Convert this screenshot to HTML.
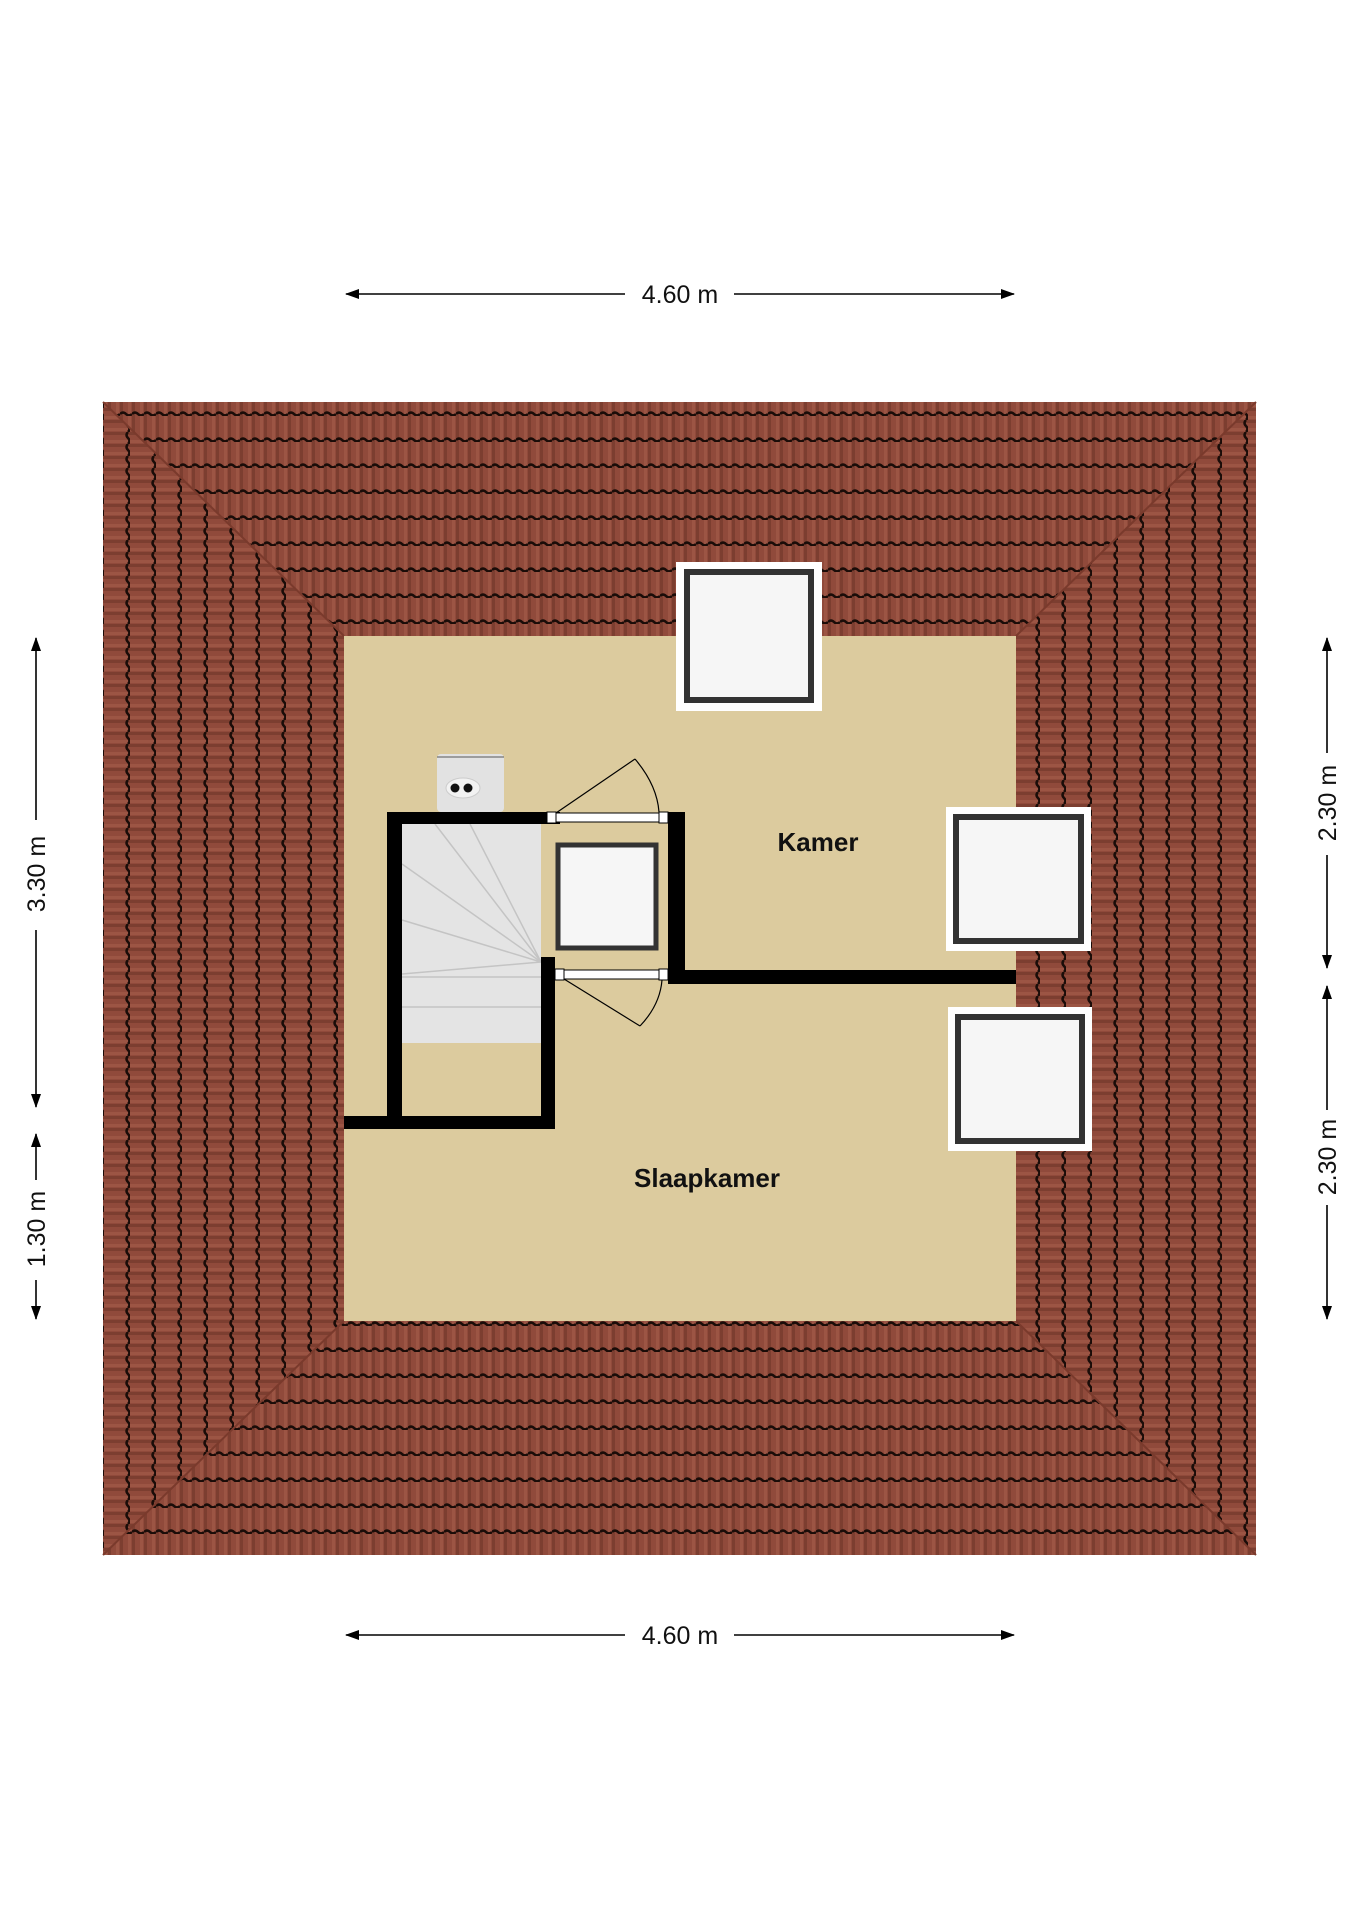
<!DOCTYPE html>
<html><head><meta charset="utf-8"><style>
html,body{margin:0;padding:0;background:#fff}
svg{display:block}
text{font-family:"Liberation Sans",sans-serif}
</style></head><body>
<svg width="1358" height="1920" viewBox="0 0 1358 1920" xmlns="http://www.w3.org/2000/svg">
<defs>
<pattern id="th" width="12" height="26" patternUnits="userSpaceOnUse">
<rect width="12" height="26" fill="#904a3b"/>
<rect x="0" y="0" width="3" height="26" fill="#7c3e30"/>
<rect x="8" y="0" width="3" height="26" fill="#9c5544"/>
<path d="M0 24 Q3 21 6 24 T12 24" stroke="#1a0c08" stroke-width="2.5" fill="none"/>
</pattern>
<pattern id="tv" width="26" height="12" patternUnits="userSpaceOnUse">
<rect width="26" height="12" fill="#904a3b"/>
<rect x="0" y="0" width="26" height="3" fill="#7c3e30"/>
<rect x="0" y="8" width="26" height="3" fill="#9c5544"/>
<path d="M24 0 Q21 3 24 6 T24 12" stroke="#1a0c08" stroke-width="2.5" fill="none"/>
</pattern>
<marker id="ah" markerWidth="14" markerHeight="12" refX="13" refY="6" orient="auto" markerUnits="userSpaceOnUse">
<path d="M0 1 L14 6 L0 11 z" fill="#000"/>
</marker>
</defs>

<!-- roof -->
<polygon points="103,402 1256,402 1016,636 344,636" fill="url(#th)"/>
<polygon points="103,1555 1256,1555 1016,1321 344,1321" fill="url(#th)"/>
<polygon points="103,402 344,636 344,1321 103,1555" fill="url(#tv)"/>
<polygon points="1256,402 1016,636 1016,1321 1256,1555" fill="url(#tv)"/>
<g stroke="#7a3a2c" stroke-width="2">
<line x1="103" y1="402" x2="344" y2="636"/><line x1="1256" y1="402" x2="1016" y2="636"/>
<line x1="103" y1="1555" x2="344" y2="1321"/><line x1="1256" y1="1555" x2="1016" y2="1321"/>
</g>

<!-- floor -->
<rect x="344" y="636" width="672" height="685" fill="#dccb9e"/>

<!-- stairs -->
<rect x="402" y="824" width="139" height="219" fill="#e4e4e4"/>
<g stroke="#c4c4c4" stroke-width="1.5" fill="none">
<line x1="541" y1="962" x2="435" y2="824"/><line x1="541" y1="962" x2="470" y2="824"/>
<line x1="541" y1="962" x2="402" y2="864"/><line x1="541" y1="962" x2="402" y2="920"/>
<line x1="541" y1="962" x2="402" y2="974"/>
<line x1="402" y1="977" x2="541" y2="977"/><line x1="402" y1="1007" x2="541" y2="1007"/>
</g>
<!-- boiler -->
<rect x="437" y="754" width="67" height="58" rx="4" fill="#e2e2e2"/>
<line x1="437" y1="757" x2="504" y2="757" stroke="#555" stroke-width="1"/>
<ellipse cx="463" cy="788" rx="17" ry="10" fill="#f2f2f2" stroke="#ccc"/>
<circle cx="455" cy="788" r="4.5" fill="#111"/><circle cx="468" cy="788" r="4.5" fill="#111"/>

<!-- walls -->
<g fill="#000">
<rect x="387" y="812" width="15" height="317"/>
<rect x="387" y="812" width="173" height="12"/>
<rect x="668" y="812" width="17" height="172"/>
<rect x="668" y="970" width="348" height="14"/>
<rect x="541" y="957" width="14" height="172"/>
<rect x="344" y="1116" width="211" height="13"/>
</g>
<!-- doors -->
<g stroke="#000" stroke-width="1" fill="#fff">
<rect x="547" y="812" width="9" height="11"/><rect x="659" y="812" width="9" height="11"/>
<rect x="556" y="813" width="103" height="9"/>
<rect x="555" y="969" width="9" height="11"/><rect x="659" y="969" width="9" height="11"/>
<rect x="564" y="970" width="95" height="9"/>
</g>
<g stroke="#000" stroke-width="1.2" fill="none">
<line x1="556" y1="813" x2="635" y2="759"/>
<path d="M635 759 Q657 785 659 812"/>
<line x1="564" y1="979" x2="640" y2="1026"/>
<path d="M640 1026 Q660 1005 662 980"/>
</g>

<!-- skylights -->
<g>
<rect x="676" y="562" width="146" height="149" fill="#fff"/>
<rect x="687" y="572" width="124" height="128" fill="#f6f6f6" stroke="#333" stroke-width="6"/>
<rect x="946" y="807" width="145" height="144" fill="#fff"/>
<rect x="956" y="817" width="125" height="124" fill="#f6f6f6" stroke="#333" stroke-width="6"/>
<rect x="948" y="1007" width="144" height="144" fill="#fff"/>
<rect x="958" y="1017" width="124" height="124" fill="#f6f6f6" stroke="#333" stroke-width="6"/>
<rect x="558" y="845" width="98" height="103" fill="#f6f6f6" stroke="#333" stroke-width="5"/>
</g>

<!-- labels -->
<text x="818" y="851" font-size="26" font-weight="bold" text-anchor="middle" fill="#111">Kamer</text>
<text x="707" y="1187" font-size="26" font-weight="bold" text-anchor="middle" fill="#111">Slaapkamer</text>

<!-- dimensions -->
<g stroke="#000" stroke-width="1.6" marker-end="url(#ah)" fill="none">
<line x1="625" y1="294" x2="346" y2="294"/><line x1="734" y1="294" x2="1014" y2="294"/>
<line x1="625" y1="1635" x2="346" y2="1635"/><line x1="734" y1="1635" x2="1014" y2="1635"/>
<line x1="36" y1="820" x2="36" y2="638"/><line x1="36" y1="930" x2="36" y2="1107"/>
<line x1="36" y1="1180" x2="36" y2="1134"/><line x1="36" y1="1280" x2="36" y2="1319"/>
<line x1="1327" y1="753" x2="1327" y2="638"/><line x1="1327" y1="855" x2="1327" y2="968"/>
<line x1="1327" y1="1110" x2="1327" y2="986"/><line x1="1327" y1="1205" x2="1327" y2="1319"/>
</g>
<g font-size="25" fill="#111" text-anchor="middle">
<text x="680" y="303">4.60 m</text>
<text x="680" y="1644">4.60 m</text>
<text transform="translate(45,874) rotate(-90)">3.30 m</text>
<text transform="translate(45,1229) rotate(-90)">1.30 m</text>
<text transform="translate(1336,803) rotate(-90)">2.30 m</text>
<text transform="translate(1336,1157) rotate(-90)">2.30 m</text>
</g>
</svg>
</body></html>
